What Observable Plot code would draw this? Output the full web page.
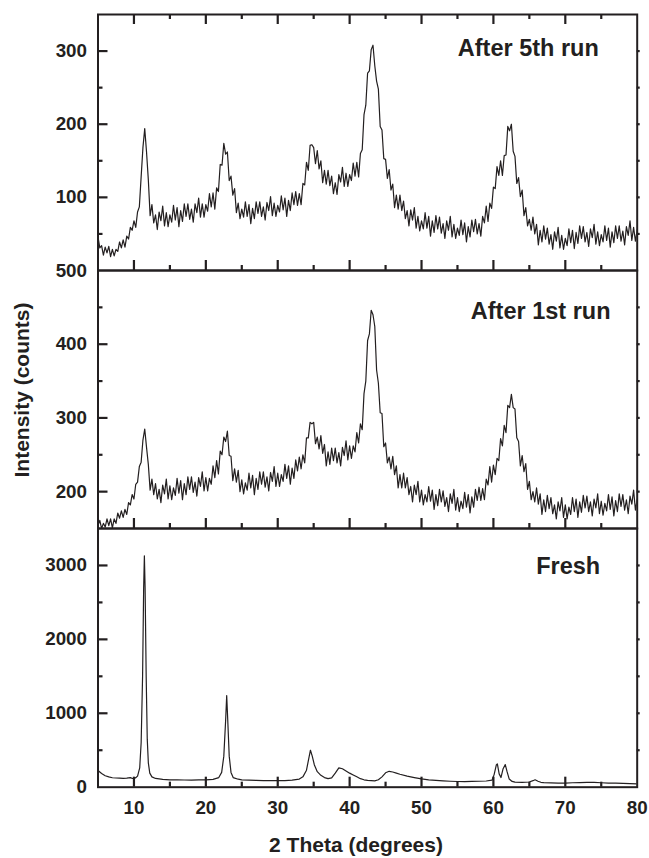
<!DOCTYPE html>
<html><head><meta charset="utf-8">
<script src="https://cdn.jsdelivr.net/npm/d3@7"></script>
<script src="https://cdn.jsdelivr.net/npm/@observablehq/plot@0.6"></script>
<style>
body{margin:0;background:#fff;}
#chart{position:relative;width:649px;height:858px;font-family:"Liberation Sans",Arial,sans-serif;font-weight:bold;color:#231f20;}
#chart svg{position:absolute;left:0;overflow:visible;}
</style></head>
<body><div id="chart"></div>
<script>
const ink = "#231f20";
// 2-theta scan grid of the two used-catalyst patterns
const scanStart = 5, scanStep = 0.25;
const run5Intensity = [
46,31,34,21, 32,24,33,19, 29,20,29,26, 39,31,42,32, 47,43,59,55,
68,59,80,87, 128,168,194,162, 124,75,90,65, 76,56,80,68, 88,61,79,60,
76,66,89,69, 86,60,82,67, 91,74,91,70, 84,66,91,79, 99,73,91,73,
90,81,105,87, 106,84,113,108, 145,144,174,159, 162,123,129,103, 112,79,92,71,
84,73,94,74, 90,64,85,71, 94,78,94,74, 87,69,93,82, 101,75,92,74,
89,80,102,83, 99,74,96,82, 106,90,108,89, 105,90,119,117, 148,137,171,172,
168,146,164,139, 150,120,137,118, 137,116,129,105, 120,104,131,121, 141,115,133,115,
131,123,147,129, 148,128,160,165, 213,226,270,273, 302,308,280,259, 248,197,192,153,
152,126,138,110, 118,86,103,84, 103,82,95,71, 82,61,83,69, 86,58,74,54,
68,57,79,58, 74,47,68,52, 75,57,73,51, 64,44,68,55, 74,46,63,44,
58,48,69,49, 65,39,60,46, 69,53,70,50, 64,47,74,65, 88,67,92,85,
114,112,142,130, 150,130,157,158, 197,191,200,163, 156,119,127,101, 110,75,86,61,
70,55,73,50, 63,35,55,39, 61,43,58,36, 49,29,53,40, 59,31,48,29,
44,34,57,38, 55,30,52,37, 61,44,60,39, 52,33,57,45, 63,36,53,34,
49,39,61,41, 58,32,53,38, 61,44,61,40, 54,35,60,48, 68,41,59,40,
56];
const run1Intensity = [
154,161,150,157, 152,163,154,163, 151,163,157,171, 164,174,165,176, 169,185,182,196,
190,210,213,234, 240,270,285,260, 237,202,217,196, 211,190,203,185, 209,197,217,190,
208,189,205,195, 218,198,215,189, 211,196,220,203, 220,199,213,194, 219,207,227,201,
219,201,218,210, 235,219,242,224, 255,250,274,268, 282,249,248,215, 231,213,229,200,
216,197,212,202, 225,205,222,196, 218,203,227,210, 227,206,220,201, 226,214,234,207,
225,207,223,214, 237,218,235,210, 232,218,243,228, 247,231,250,239, 273,273,294,292,
294,265,274,258, 276,252,264,235, 254,237,259,242, 259,239,253,235, 260,249,269,243,
262,245,262,254, 280,266,292,284, 333,350,405,414, 446,440,424,365, 347,307,306,261,
266,239,247,231, 248,223,235,205, 223,205,225,205, 219,196,207,186, 209,196,214,186,
202,182,196,186, 207,187,202,176, 196,181,203,186, 201,180,192,173, 197,184,203,175,
192,173,187,177, 199,179,196,171, 193,179,203,188, 206,188,204,189, 217,209,234,213,
236,223,245,242, 272,262,290,280, 317,314,332,314, 312,273,268,235, 249,227,238,203,
214,189,200,186, 205,183,197,169, 189,173,195,177, 192,170,182,163, 186,174,192,165,
182,163,179,169, 192,173,190,165, 186,172,195,178, 194,173,186,167, 190,178,197,170,
187,168,184,174, 196,176,193,167, 188,173,197,180, 196,175,189,170, 194,183,202,175,
190];
const freshTheta = [5,5.5,6,6.5,7,7.5,8,8.5,9,9.5,9.8,10.2,10.5,10.8,11,11.2,11.35,11.45,11.55,11.7,11.85,12,12.2,12.5,13,14,15,16,17,18,19,20,21,21.8,22.2,22.5,22.75,22.9,23.05,23.25,23.5,23.8,24.5,25,26,27,28,29,30,31,32,33,33.5,34,34.3,34.55,34.8,35.1,35.5,36,36.5,37,37.5,38,38.5,39,39.5,40,40.5,41,41.5,42,42.5,43,43.5,44,44.5,45,45.5,46,46.5,47,48,49,50,51,52,53,54,55,56,57,58,59,59.8,60.1,60.4,60.55,60.8,61.05,61.35,61.65,61.9,62.2,62.6,63,64,65,65.5,65.8,66.2,66.6,67,68,69,70,71,72,73,74,75,76,77,78,79,80];
const freshIntensity = [225,185,155,140,128,124,122,120,122,130,118,125,150,260,600,1500,2700,3130,2700,1500,650,330,190,140,118,105,100,98,97,96,98,100,105,130,200,420,900,1240,900,420,200,130,108,100,95,92,90,90,88,90,95,110,140,230,380,500,420,300,210,160,130,115,125,190,262,250,220,190,165,140,115,100,92,88,85,100,140,195,215,205,190,175,150,130,112,100,92,85,80,77,76,78,80,84,95,170,300,315,180,130,250,305,210,110,78,68,65,70,88,100,80,66,62,58,56,54,60,62,64,66,60,56,54,52,48,45];

const xMajor = [10, 20, 30, 40, 50, 60, 70];
const xMinor = [15, 25, 35, 45, 55, 65, 75];
const xLabels = [10, 20, 30, 40, 50, 60, 70, 80];
const run5YTicks = [100, 200, 300], run5YMinor = [50, 150, 250];
const run1YTicks = [200, 300, 400, 500], run1YMinor = [250, 350, 450];
const freshYTicks = [0, 1000, 2000, 3000], freshYMinor = [500, 1500, 2500];
const panelTitles = ["After 5th run", "After 1st run", "Fresh"];
const yTitle = "Intensity (counts)", xTitle = "2 Theta (degrees)";

const scanTheta = run5Intensity.map((_, i) => scanStart + i * scanStep);
const xDomain = [5, 80];
const plotWidthPx = 649 - 97.5 - 12.3;

function panel(o) {
  const data = o.intensity.map((v, i) => ({theta: o.theta[i], v}));
  const [y0, y1] = o.domain;
  const yPer = (y1 - y0) / o.height;     // data units per pixel
  const xPer = (xDomain[1] - xDomain[0]) / plotWidthPx;
  const inner = o.yTicks.filter(d => d > y0 && d < y1);
  const ts = {stroke: ink, strokeWidth: 2.2};
  const marks = [
    Plot.line(data, {x: "theta", y: "v", stroke: ink, strokeWidth: 1.2, clip: true}),
    Plot.frame({stroke: ink, strokeWidth: 2}),
    Plot.ruleX(xMajor, {x: d => d, y1: y0, y2: y0 + 10 * yPer, ...ts}),
    Plot.ruleX(xMinor, {x: d => d, y1: y0, y2: y0 + 5 * yPer, ...ts}),
    Plot.ruleY(inner, {y: d => d, x1: xDomain[0], x2: xDomain[0] + 10 * xPer, ...ts}),
    Plot.ruleY(o.yMinor, {y: d => d, x1: xDomain[0], x2: xDomain[0] + 5 * xPer, ...ts}),
    Plot.ruleY(inner.concat(o.yMinor), {y: d => d, x1: xDomain[1], x2: xDomain[1] + 3 * xPer, ...ts}),
    Plot.axisY(o.yTicks, {anchor: "left", tickSize: 0, tickPadding: 11, label: null, tickFormat: "d", fill: ink}),
    Plot.text([o.title], {frameAnchor: "top-right", textAnchor: "end", lineAnchor: "top",
      dx: o.titleDx, dy: o.titleDy, fontSize: 23.5, fontWeight: "bold", fill: ink})
  ];
  if (o.topTicks) {
    marks.push(
      Plot.ruleX(xMajor, {x: d => d, y1: y1, y2: y1 - 10 * yPer, ...ts}),
      Plot.ruleX(xMinor, {x: d => d, y1: y1, y2: y1 - 5 * yPer, ...ts}));
  }
  if (o.xAxis) {
    marks.push(Plot.axisX(xLabels, {anchor: "bottom", tickSize: 0, tickPadding: 13, label: null, tickFormat: "d", fill: ink}));
  }
  const svg = Plot.plot({
    width: 649, height: o.height,
    marginLeft: 97.5, marginRight: 12.3, marginTop: 0, marginBottom: 0,
    x: {domain: xDomain, axis: o.xAxis ? undefined : null},
    y: {domain: o.domain},
    style: {fontFamily: "Liberation Sans, Arial, sans-serif", fontSize: "18.8px", fontWeight: "bold",
      color: ink, background: "transparent", overflow: "visible"},
    marks
  });
  svg.style.position = "absolute";
  svg.style.top = o.top + "px";
  svg.style.left = "0px";
  return svg;
}
const chart = document.getElementById("chart");
chart.appendChild(panel({theta: scanTheta, intensity: run5Intensity, domain: [0, 350],
  yTicks: run5YTicks, yMinor: run5YMinor, title: panelTitles[0], titleDx: -38.4, titleDy: 25,
  top: 14, height: 256, topTicks: true}));
chart.appendChild(panel({theta: scanTheta, intensity: run1Intensity, domain: [150, 500],
  yTicks: run1YTicks, yMinor: run1YMinor, title: panelTitles[1], titleDx: -26.7, titleDy: 32,
  top: 270, height: 258}));
chart.appendChild(panel({theta: freshTheta, intensity: freshIntensity, domain: [0, 3500],
  yTicks: freshYTicks, yMinor: freshYMinor, title: panelTitles[2], titleDx: -37, titleDy: 29,
  top: 528, height: 258.7, xAxis: true}));

const overlay = d3.select(chart).append("svg")
  .attr("width", 649).attr("height", 858)
  .style("top", "0px").style("pointer-events", "none")
  .style("font-family", "Liberation Sans, Arial, sans-serif").style("font-weight", "bold")
  .style("font-size", "21px").attr("fill", ink);
overlay.append("text").attr("text-anchor", "middle")
  .attr("transform", "translate(29,390) rotate(-90)").text(yTitle);
overlay.append("text").attr("text-anchor", "middle")
  .attr("x", 356).attr("y", 851.7).text(xTitle);
</script></body></html>
